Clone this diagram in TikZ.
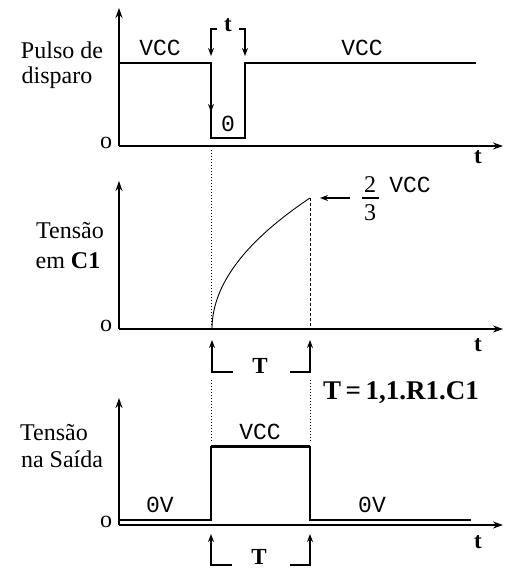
\documentclass[tikz,border=0pt]{standalone}
\usepackage{fontspec}
\setmainfont{Liberation Serif}
\newfontfamily\monof{Liberation Mono}
\usetikzlibrary{arrows.meta}
\begin{document}
\begin{tikzpicture}[x=1pt,y=-1pt,
  lab/.style={font=\fontsize{24}{26}\selectfont, inner sep=0pt},
  mono/.style={font=\monof\fontsize{23}{24}\selectfont, inner sep=0pt},
  bt/.style={font=\bfseries\fontsize{23}{24}\selectfont, inner sep=0pt},
  axis/.style={line width=1.7pt, -{Stealth[length=10pt,width=7pt]}},
  sig/.style={line width=1.4pt},
  thk/.style={line width=3pt},
  marker/.style={line width=1.4pt, -{Stealth[length=8pt,width=6pt]}},
  guide/.style={line width=1pt, dotted},
  dguide/.style={line width=1pt, densely dashed}]
\useasboundingbox (0,0) rectangle (515,570);

% ---------- panel 1 ----------
\coordinate (o1) at (119,146);
\coordinate (y1) at (119,8);
\coordinate (x1) at (503,146);
\draw[axis] (o1) -- (y1);
\draw[axis] (o1) -- (x1);
\coordinate (p1a) at (119,63);
\coordinate (p1b) at (211,63);
\coordinate (p1c) at (211,138);
\coordinate (p1d) at (245,138);
\coordinate (p1e) at (245,63);
\coordinate (p1f) at (476,63);
\coordinate (p1m) at (211,112);
\draw[sig] (p1a) -- (p1b) -- (p1c) -- (p1d) -- (p1e) -- (p1f);
\draw[marker] (p1b) -- (p1m);
\coordinate (bl1) at (217,29);
\coordinate (bl2) at (211,29);
\coordinate (bl3) at (211,56);
\coordinate (br1) at (239,29);
\coordinate (br2) at (245,29);
\coordinate (br3) at (245,56);
\draw[marker] (bl1) -- (bl2) -- (bl3);
\draw[marker] (br1) -- (br2) -- (br3);
\node[bt] (tt1) at (228,25) {t};
\node[mono] (vcc1) at (160,48) {VCC};
\node[mono] (vcc2) at (362,48) {VCC};
\node[mono] (zero) at (228,124) {0};
\node[lab] (pul1) at (62,50) {Pulso de};
\node[lab] (pul2) at (57,78) {disparo};
\node[lab] (og1) at (106,143) {o};
\node[bt] (t1) at (478,157) {t};

% ---------- panel 2 ----------
\coordinate (o2) at (119,329);
\coordinate (y2) at (119,181);
\coordinate (x2) at (503,329);
\draw[axis] (o2) -- (y2);
\draw[axis] (o2) -- (x2);
\coordinate (c0) at (212,329);
\coordinate (c1) at (310,198);
\draw[line width=0.9pt] plot[domain=0:1, samples=60, smooth] ({212+98*\x*\x},{329-131*\x});
\coordinate (d1top) at (211,150);
\coordinate (d1bot) at (211,327);
\draw[guide] (d1top) -- (d1bot);
\coordinate (d2bot) at (310,329);
\draw[dguide] (c1) -- (d2bot);
\coordinate (ar1) at (350,198);
\coordinate (ar2) at (320,198);
\draw[marker] (ar1) -- (ar2);
\node[lab] (num) at (370,185) {2};
\node[lab] (den) at (370,213) {3};
\coordinate (fl) at (362,198);
\coordinate (fr) at (379,198);
\draw[line width=1.2pt] (fl) -- (fr);
\node[mono] (vcc3) at (410,185) {VCC};
\node[lab] (ten1) at (70,231) {Tensão};
\node[lab] (ten2) at (68,261) {em \textbf{C1}};
\node[lab] (og2) at (106,326) {o};
\node[bt] (t2) at (478,345) {t};

% bracket under panel 2
\coordinate (a1b) at (212,372);
\coordinate (a1t) at (212,340);
\coordinate (a1r) at (233,372);
\coordinate (a2b) at (310,372);
\coordinate (a2t) at (310,340);
\coordinate (a2l) at (290,372);
\draw[marker] (a1r) -- (a1b) -- (a1t);
\draw[marker] (a2l) -- (a2b) -- (a2t);
\node[bt] (T1) at (260,366) {T};
\node[bt, font=\bfseries\fontsize{27}{28}\selectfont] (form) at (401,393) {T\,=\,1,1.R1.C1};

% ---------- panel 3 ----------
\coordinate (o3) at (119,525);
\coordinate (y3) at (119,398);
\coordinate (x3) at (503,525);
\draw[axis] (o3) -- (y3);
\draw[axis] (o3) -- (x3);
\coordinate (s1) at (119,520);
\coordinate (s2) at (211,520);
\coordinate (s3) at (211,446);
\coordinate (s4) at (310,446);
\coordinate (s5) at (310,520);
\coordinate (s6) at (471,520);
\draw[sig] (s1) -- (s2) -- (s3);
\draw[thk] (s3) -- (s4);
\draw[sig] (s4) -- (s5) -- (s6);
\coordinate (g1t) at (211,380);
\coordinate (g1b) at (211,442);
\coordinate (g2t) at (310,380);
\coordinate (g2b) at (310,442);
\draw[guide] (g1t) -- (g1b);
\draw[guide] (g2t) -- (g2b);
\node[mono] (vcc4) at (260,432) {VCC};
\node[mono] (ov1) at (160,505) {0V};
\node[mono] (ov2) at (372,505) {0V};
\node[lab] (sa1) at (54,433) {Tensão};
\node[lab] (sa2) at (62,459) {na Saída};
\node[lab] (og3) at (106,522) {o};
\node[bt] (t3) at (478,542) {t};

% bracket under panel 3
\coordinate (b1b) at (211,565);
\coordinate (b1t) at (211,534);
\coordinate (b1r) at (232,565);
\coordinate (b2b) at (310,565);
\coordinate (b2t) at (310,534);
\coordinate (b2l) at (290,565);
\draw[marker] (b1r) -- (b1b) -- (b1t);
\draw[marker] (b2l) -- (b2b) -- (b2t);
\node[bt] (T2) at (259,557) {T};
\end{tikzpicture}
\end{document}
